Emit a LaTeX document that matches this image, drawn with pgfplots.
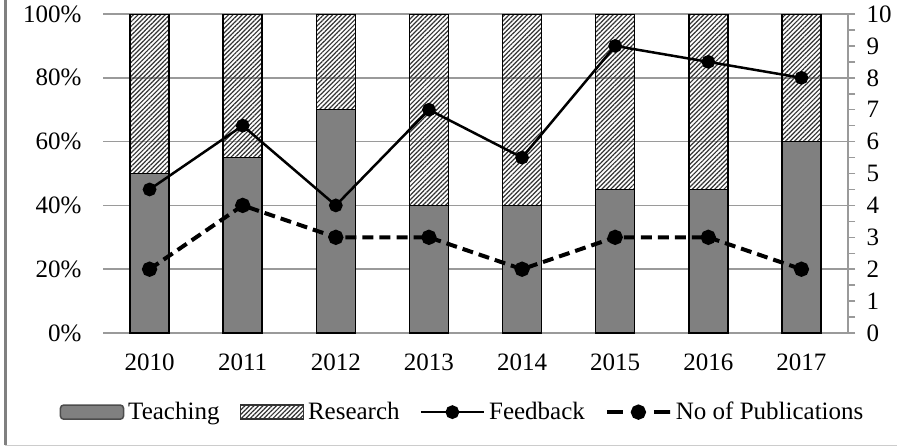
\documentclass[border=0pt]{standalone}
\usepackage{fontspec}
\setmainfont{Liberation Serif}
\usepackage{pgfplots}
\pgfplotsset{compat=1.18}
\usetikzlibrary{patterns.meta}

\definecolor{barfill}{HTML}{808080}
\definecolor{gridc}{HTML}{9A9A9A}
\newcommand{\lbl}{\fontsize{12.5}{15}\selectfont}

\pgfplotsset{
    hatch/.style={pattern={Lines[angle=45,distance=1.6pt,line width=0.6pt]}, pattern color=black!80},
    boxlegend/.style={legend image code/.code={\draw[##1] (0pt,-3.5pt) rectangle (31.5pt,3.5pt);}},
    linelegend/.style={legend image code/.code={\draw[mark repeat=2,mark phase=2,##1]
        plot coordinates {(0pt,0pt) (15.75pt,0pt) (31.5pt,0pt)};}},
    dashlegend/.style={legend image code/.code={\draw[mark repeat=2,mark phase=2,##1,
        dash pattern=on 8pt off 15.5pt on 8pt off 0pt]
        plot coordinates {(0pt,0pt) (15.75pt,0pt) (31.5pt,0pt)};}},
}

\begin{document}
\begin{tikzpicture}[font=\lbl]
\useasboundingbox (0,0) rectangle (448.5pt,223.5pt);
% frame remains
\draw[gray, line width=1.5pt] (2.5pt,1pt) -- (2.5pt,223.5pt);
\draw[gray!40, line width=0.5pt] (2.5pt,1pt) -- (448.5pt,1pt);

% bars, left axis
\begin{axis}[
    name=main,
    at={(51.5pt,57pt)}, anchor=south west,
    scale only axis, width=372.5pt, height=159.5pt,
    ybar stacked, bar width=19.5pt,
    xmin=-0.5, xmax=7.5, ymin=0, ymax=100,
    xtick={0,1,2,3,4,5,6,7},
    xticklabels={2010,2011,2012,2013,2014,2015,2016,2017},
    ytick={0,20,40,60,80,100},
    yticklabel={\pgfmathprintnumber{\tick}\%},
    /pgf/number format/assume math mode=true,
    tick label style={font=\lbl},
    xticklabel style={yshift=-7pt},
    yticklabel style={xshift=-7.3pt},
    major tick length=0pt,
    axis line style={draw=none},
    ymajorgrids, grid style={gridc, line width=0.75pt},
]
% Teaching
\addplot[fill=barfill, draw=black, line width=0.75pt] coordinates {
    (0,50) (1,55) (2,70) (3,40) (4,40) (5,45) (6,45) (7,60)
};
% Research
\addplot[hatch, draw=black, line width=0.75pt] coordinates {
    (0,50) (1,45) (2,30) (3,60) (4,60) (5,55) (6,55) (7,40)
};
\end{axis}

% lines, right axis
\begin{axis}[
    at={(main.south west)}, anchor=south west,
    scale only axis, width=372.5pt, height=159.5pt,
    xmin=-0.5, xmax=7.5, ymin=0, ymax=10,
    axis x line=none, axis y line=right,
    y axis line style={-, gridc, line width=0.75pt},
    ytick={0,1,...,10}, minor ytick={0.5,1.5,...,9.5},
    tick align=outside, major tick length=3.5pt, minor tick length=3.5pt,
    ytick style={gridc, line width=0.75pt},
    /pgf/number format/assume math mode=true,
    tick label style={font=\lbl},
    yticklabel style={xshift=2.3pt},
    clip=false,
    legend style={at={(0.484,-0.248)}, anchor=center, draw=none, fill=none,
        font=\lbl, legend columns=4,
        /tikz/every even column/.append style={column sep=8pt},
        nodes={inner sep=2pt}},
]
\addlegendimage{fill=barfill, draw=black!70, line width=0.75pt, rounded corners=1.5pt, boxlegend}
\addlegendentry{Teaching}
\addlegendimage{hatch, draw=black!80, line width=0.75pt, boxlegend}
\addlegendentry{Research}
% Feedback
\addplot[black, line width=1.25pt, mark=*, mark size=2.8pt, linelegend] coordinates {
    (0,4.5) (1,6.5) (2,4) (3,7) (4,5.5) (5,9) (6,8.5) (7,8)
};
\addlegendentry{Feedback}
% No of Publications
\addplot[black, line width=2pt, dash pattern=on 5.5pt off 3pt, mark=*, mark size=2.8pt,
    mark options={solid}, dashlegend] coordinates {
    (0,2) (1,4) (2,3) (3,3) (4,2) (5,3) (6,3) (7,2)
};
\addlegendentry{No of Publications}
\end{axis}
\end{tikzpicture}
\end{document}
